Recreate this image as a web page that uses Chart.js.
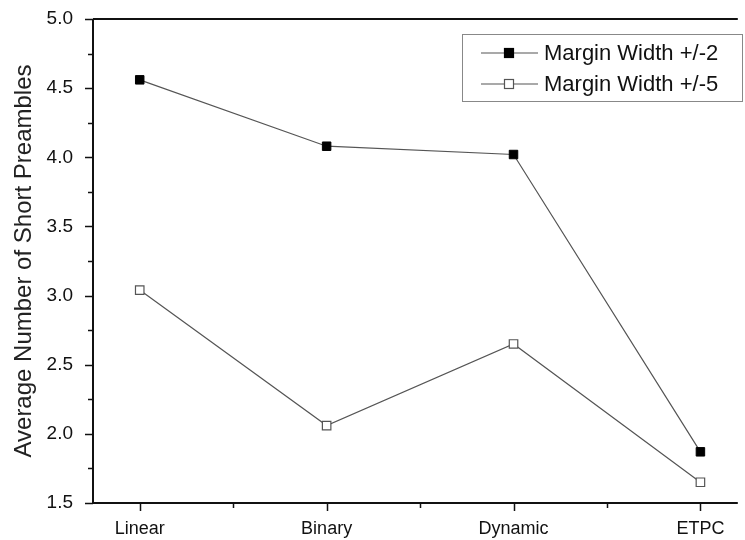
<!DOCTYPE html>
<html>
<head>
<meta charset="utf-8">
<script src="https://cdn.jsdelivr.net/npm/chart.js@4"></script>
<style>
  html, body { margin: 0; padding: 0; background: #fff; }
  #wrap { width: 745px; height: 540px; }
</style>
</head>
<body>
<div id="wrap"><canvas id="c" width="745" height="540"></canvas></div>
<script>
const categories = ["Linear", "Binary", "Dynamic", "ETPC"];
const margin2 = [4.56, 4.08, 4.02, 1.87];
const margin5 = [3.04, 2.06, 2.65, 1.65];
const yTicks = [1.5, 2.0, 2.5, 3.0, 3.5, 4.0, 4.5, 5.0];

const FONT = "'Liberation Sans', Arial, sans-serif";

function toPoints(values) {
  return values.map((v, i) => ({ x: i, y: v }));
}

// axis frame, ticks (major + minor) and the boxed legend
const framePlugin = {
  id: "frame",
  afterDraw(chart) {
    const ctx = chart.ctx;
    const area = chart.chartArea;
    const xs = chart.scales.x;
    const ys = chart.scales.y;
    ctx.save();
    ctx.strokeStyle = "#111";
    ctx.lineWidth = 2;
    ctx.beginPath();
    ctx.moveTo(area.left, area.top);
    ctx.lineTo(area.left, area.bottom);
    ctx.lineTo(area.right, area.bottom);
    ctx.moveTo(area.left, area.top);
    ctx.lineTo(area.right, area.top);
    ctx.stroke();

    ctx.lineWidth = 1.5;
    ctx.beginPath();
    for (let v = 1.5; v <= 5.0001; v += 0.25) {
      const py = Math.round(ys.getPixelForValue(v)) + 0.5;
      const major = Math.abs(v * 2 - Math.round(v * 2)) < 1e-6;
      ctx.moveTo(area.left, py);
      ctx.lineTo(area.left - (major ? 8 : 5), py);
    }
    for (let v = 0; v <= categories.length - 0.5; v += 0.5) {
      const px = Math.round(xs.getPixelForValue(v)) + 0.5;
      const major = Number.isInteger(v);
      ctx.moveTo(px, area.bottom);
      ctx.lineTo(px, area.bottom + (major ? 8 : 5));
    }
    ctx.stroke();

    // legend
    const box = { left: 462, top: 34, right: 742, bottom: 101 };
    ctx.strokeStyle = "#888";
    ctx.lineWidth = 1;
    ctx.strokeRect(box.left + 0.5, box.top + 0.5, box.right - box.left, box.bottom - box.top);
    ctx.font = "22px " + FONT;
    ctx.textBaseline = "middle";
    chart.data.datasets.forEach((ds, i) => {
      const y = box.top + 19 + i * 31;
      ctx.strokeStyle = ds.borderColor;
      ctx.lineWidth = 1.2;
      ctx.beginPath();
      ctx.moveTo(481, y);
      ctx.lineTo(538, y);
      ctx.stroke();
      ctx.fillStyle = ds.pointBackgroundColor;
      ctx.fillRect(504, y - 5, 10, 10);
      ctx.strokeStyle = ds.pointBorderColor;
      ctx.strokeRect(504.5, y - 4.5, 9, 9);
      ctx.fillStyle = "#111";
      ctx.fillText(ds.label, 544, y + 1);
    });
    ctx.restore();
  }
};

new Chart(document.getElementById("c"), {
  type: "line",
  data: {
    datasets: [
      {
        label: "Margin Width +/-2",
        data: toPoints(margin2),
        borderColor: "#555",
        borderWidth: 1.2,
        pointStyle: "rect",
        pointRadius: 6,
        pointBackgroundColor: "#000",
        pointBorderColor: "#000",
        pointBorderWidth: 1
      },
      {
        label: "Margin Width +/-5",
        data: toPoints(margin5),
        borderColor: "#555",
        borderWidth: 1.2,
        pointStyle: "rect",
        pointRadius: 6,
        pointBackgroundColor: "#fff",
        pointBorderColor: "#555",
        pointBorderWidth: 1.2
      }
    ]
  },
  options: {
    responsive: false,
    animation: false,
    layout: { padding: { top: 19, right: 0, left: 0, bottom: 0 } },
    plugins: {
      legend: { display: false },
      tooltip: { enabled: false }
    },
    scales: {
      x: {
        type: "linear",
        min: -0.25,
        max: 3.2,
        afterBuildTicks: s => { s.ticks = categories.map((c, i) => ({ value: i })); },
        afterFit: s => { s.height = 37; s.paddingLeft = 0; s.paddingRight = 0; },
        grid: { display: false },
        border: { display: false },
        ticks: {
          callback: v => categories[v],
          color: "#111",
          font: { family: FONT, size: 18 },
          padding: 7,
          maxRotation: 0
        }
      },
      y: {
        min: 1.5,
        max: 5.0,
        afterBuildTicks: s => { s.ticks = yTicks.map(v => ({ value: v })); },
        afterFit: s => { s.width = 93; s.paddingTop = 0; s.paddingBottom = 0; },
        grid: { display: false },
        border: { display: false },
        title: {
          display: true,
          text: "Average Number of Short Preambles",
          color: "#222",
          font: { family: FONT, size: 24 },
          padding: { top: 10, bottom: 6 }
        },
        ticks: {
          callback: v => v.toFixed(1),
          color: "#111",
          font: { family: FONT, size: 19 },
          padding: 12
        }
      }
    }
  },
  plugins: [framePlugin]
});
</script>
</body>
</html>
